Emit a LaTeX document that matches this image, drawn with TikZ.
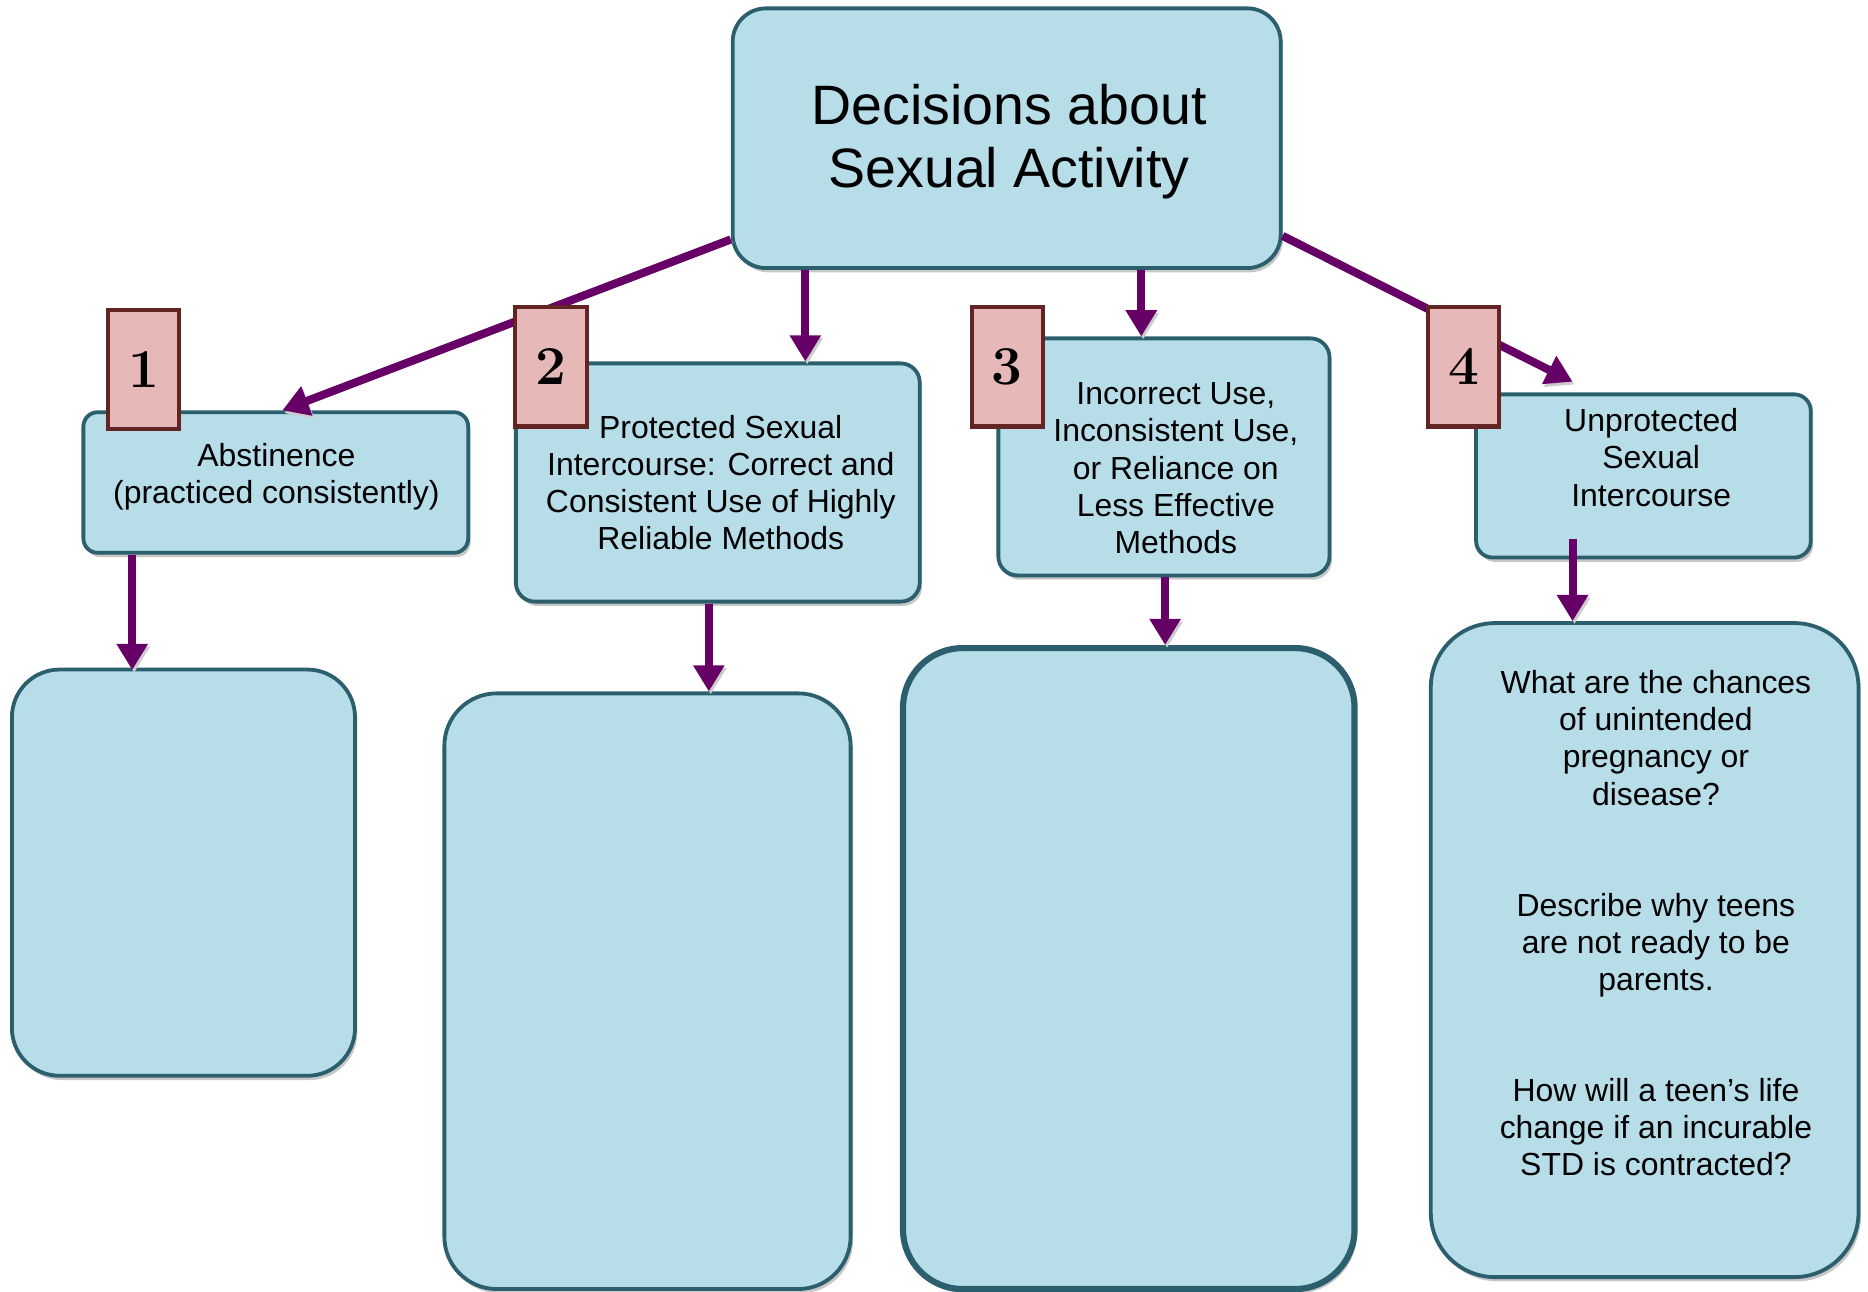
\documentclass[tikz,border=0pt]{standalone}
\usepackage{fontspec}
\setsansfont{Liberation Sans}
\usepackage{xcolor}
\usetikzlibrary{arrows.meta,shadows}
\definecolor{boxfill}{HTML}{B7DDE8}
\definecolor{boxline}{HTML}{2C5F6E}
\definecolor{numfill}{HTML}{E6B8B7}
\definecolor{numline}{HTML}{632523}
\definecolor{arrowcol}{HTML}{660066}
\tikzstyle{box} = [draw=boxline,fill=boxfill,line width=1.6pt,rectangle,inner sep=0pt,
  drop shadow={shadow xshift=1pt,shadow yshift=-1.8pt,fill=black,opacity=0.22}]
\tikzstyle{numbox} = [draw=numline,fill=numfill,line width=1.7pt,minimum width=30pt,
  minimum height=50pt,inner sep=0pt,font=\rmfamily\bfseries\fontsize{23}{24}\selectfont]
\tikzstyle{line} = [draw=arrowcol,line width=3.4pt,-{Triangle[width=12.5pt,length=11pt]},
  preaction={draw=black!20,transform canvas={xshift=0.8pt,yshift=-1.2pt}}]
\tikzstyle{txt} = [align=center,inner sep=0pt,font=\sffamily\fontsize{13.4}{15.6}\selectfont]

\begin{document}
\begin{tikzpicture}[x=0.5pt,y=-0.5pt]
    \useasboundingbox (0,0) rectangle (1568,1083.7);
    \node[box,minimum width=230pt,minimum height=109pt,rounded corners=14pt] (top) at (845,116) {};
    \node[box,minimum width=161.5pt,minimum height=59pt,rounded corners=6pt] (abst) at (231.5,405) {};
    \node[box,minimum width=169.5pt,minimum height=100pt,rounded corners=8pt] (prot) at (602.5,405) {};
    \node[box,minimum width=139pt,minimum height=99.5pt,rounded corners=8pt] (incor) at (977,383.5) {};
    \node[box,minimum width=140.5pt,minimum height=68.5pt,rounded corners=7pt] (unpr) at (1379.5,399.5) {};
    \node[box,minimum width=144pt,minimum height=170.5pt,rounded corners=20pt] (res1) at (154,732.5) {};
    \node[box,minimum width=170.5pt,minimum height=250pt,rounded corners=22pt] (res2) at (543.5,832) {};
    \node[box,line width=2.6pt,minimum width=189.5pt,minimum height=269pt,rounded corners=25pt] (res3) at (947.5,813) {};
    \node[box,minimum width=179.5pt,minimum height=274.5pt,rounded corners=27pt] (res4) at (1380.5,797.5) {};
    \node[txt,font=\sffamily\fontsize{23.3}{26.5}\selectfont] (top-t) at (847,119) {Decisions about\\Sexual Activity};
    \node[txt] (abst-t) at (232,400) {Abstinence\\(practiced consistently)};
    \node[txt] (prot-t) at (605,405) {Protected Sexual\\Intercourse: Correct and\\Consistent Use of Highly\\Reliable Methods};
    \node[txt] (incor-t) at (987,393) {Incorrect Use,\\Inconsistent Use,\\or Reliance on\\Less Effective\\Methods};
    \node[txt] (unpr-t) at (1386,384) {Unprotected\\Sexual\\Intercourse};
    \node[txt] (res4-t) at (1390,775) {What are the chances\\of unintended\\pregnancy or\\disease?\\[31pt]Describe why teens\\are not ready to be\\parents.\\[31pt]How will a teen’s life\\change if an incurable\\STD is contracted?};
    \draw[line] ([shift={(0,85)}]top.west) -- ([shift={(5.5,0)}]abst.north);
    \draw[line] ([shift={(-169,0)}]top.south) -- ([shift={(73.5,0)}]prot.north);
    \draw[line] ([shift={(113,0)}]top.south) -- ([shift={(-19,0)}]incor.north);
    \draw[line] ([shift={(0,82)}]top.east) -- ([shift={(-59.5,-9)}]unpr.north);
    \draw[line] ([shift={(-120.5,0)}]abst.south) -- ([shift={(-43,2)}]res1.north);
    \draw[line] ([shift={(-7.5,0)}]prot.south) -- ([shift={(51.5,0)}]res2.north);
    \draw[line] ([shift={(1,0)}]incor.south) -- ([shift={(30.5,0)}]res3.north);
    \draw[line] ([shift={(-59.5,-17)}]unpr.south) -- ([shift={(-60.5,0)}]res4.north);
    \node[numbox] (n1) at (120.5,310) {1};
    \node[numbox] (n2) at (462.5,308) {2};
    \node[numbox] (n3) at (845.5,308) {3};
    \node[numbox] (n4) at (1228.5,308) {4};
\end{tikzpicture}
\end{document}
